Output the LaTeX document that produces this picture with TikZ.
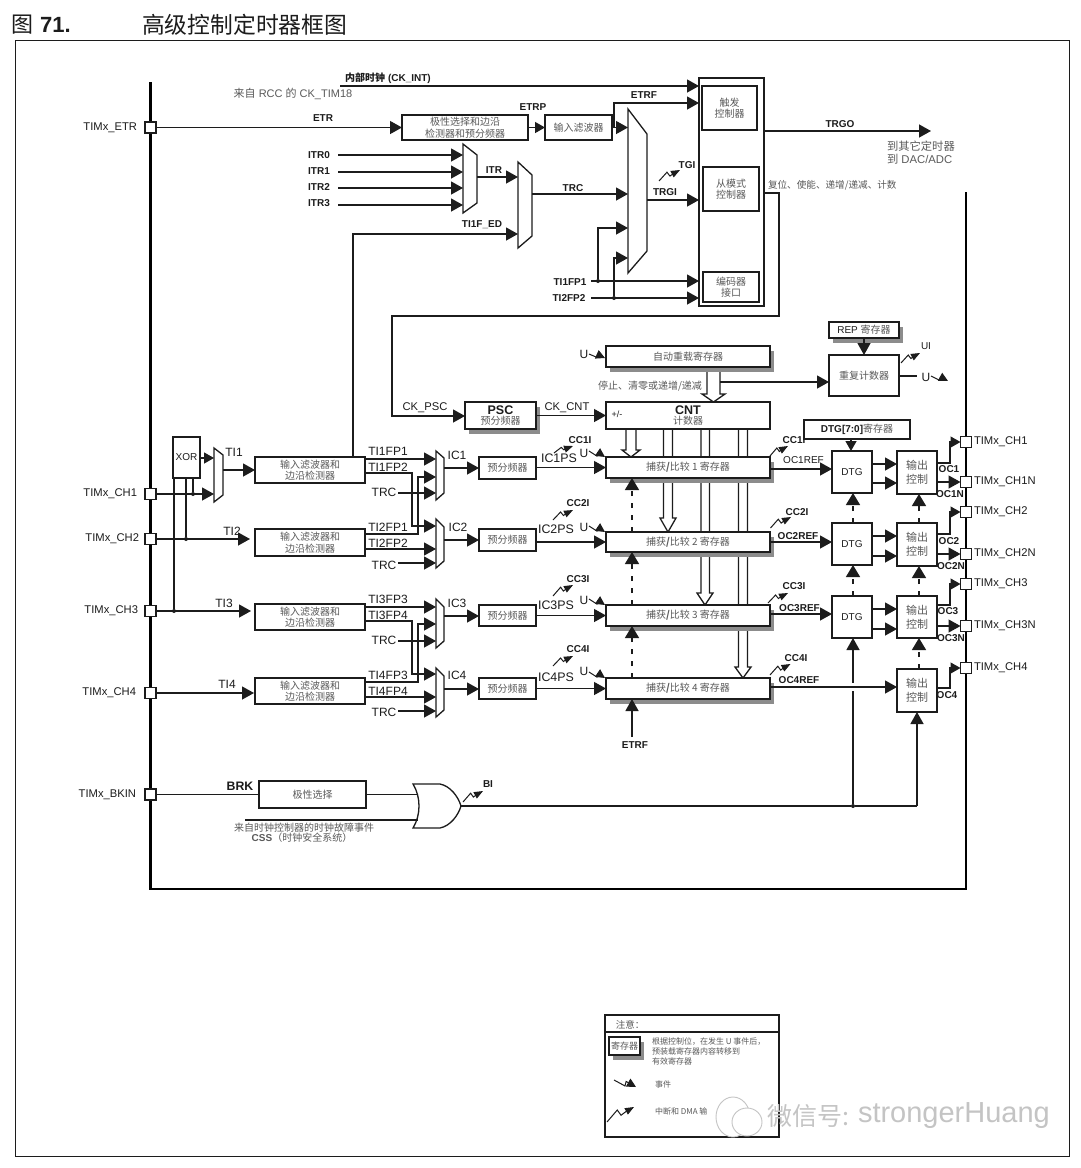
\documentclass[tikz,border=0pt]{standalone}
\usepackage{fontspec}
\setmainfont{Liberation Sans}
\newfontfamily\cjk{Noto Sans CJK SC}
\usetikzlibrary{arrows.meta,shadows}
\pgfdeclarelayer{background}\pgfsetlayers{background,main}
\definecolor{ink}{HTML}{1C1C1C}
\definecolor{zhg}{HTML}{5A5A5A}
\definecolor{shd}{HTML}{8C8C8C}
\definecolor{wmk}{HTML}{C4C4C4}
\newcount\lblcnt
\newcommand{\lbl}[3][]{\global\advance\lblcnt by 1 \node[lab,#1] (lab\the\lblcnt) at (#2) {#3};}
\newcommand{\bxn}[7][]{\node[boxs,#1,minimum width={(#5-#3)*1pt},minimum height={(#6-#4)*1pt}] (#2) at ({(#3+#5)/2},{(#4+#6)/2}) {#7};}
\newcommand{\zig}[4]{\draw[lin,line width=1pt,-{Triangle[length=9pt,width=7pt]}] (#1,#2) -- ({#1+.38*(#3-#1)},{#2+.8*(#4-#2)}) -- ({#1+.52*(#3-#1)},{#2+.45*(#4-#2)}) -- ({#1+.72*(#3-#1)},{#2+.72*(#4-#2)}) -- (#3,#4);}
\newcommand{\evt}[4]{\draw[lin,line width=1pt,-{Triangle[length=9pt,width=9pt]}] (#1,#2) -- ({#1+.5*(#3-#1)},{#2+.85*(#4-#2)}) -- ({#1+.55*(#3-#1)},{#2+.2*(#4-#2)}) -- (#3,#4);}
\newcommand{\mux}[7]{\draw[lin,fill=white] (#2,#3) -- (#4,#5) -- (#4,#6) -- (#2,#7) -- cycle; \coordinate (#1) at (#4,{(#5+#6)/2});}
\tikzset{
 lin/.style={draw=ink,line width=1.3pt,line join=miter},
 arr/.style={lin,-{Triangle[length=12pt,width=13pt]}},
 arrs/.style={lin,-{Triangle[length=10pt,width=11pt]}},
 darr/.style={lin,dash pattern=on 5pt off 7pt,-{Triangle[length=12pt,width=14pt]}},
 busl/.style={draw=black,line width=2.3pt,line cap=butt,line join=miter},
 boxs/.style={draw=ink,line width=1.3pt,fill=white,inner sep=0pt,outer sep=0pt,align=center,text=zhg,font=\zhten},
 reg/.style={copy shadow={draw=none,fill=shd,shadow xshift=3.7pt,shadow yshift=-5pt}},
 pinb/.style={draw=ink,line width=1.3pt,fill=white,minimum size=11pt,inner sep=0pt,outer sep=0pt},
 dot/.style={circle,fill=ink,minimum size=4pt,inner sep=0pt,outer sep=0pt},
 lab/.style={inner sep=0pt,outer sep=0pt,text=ink,align=center},
 bten/.style={font=\fontsize{10}{12}\selectfont\bfseries},
 rtwelve/.style={font=\fontsize{12}{14}\selectfont},
 releven/.style={font=\fontsize{11.2}{13}\selectfont},
 rten/.style={font=\fontsize{10}{12}\selectfont},
 zh/.style={font=\zhten,text=zhg},
 hollow/.style={draw=ink,line width=1.3pt,fill=white,line join=miter},
}
\newcommand{\zhten}{\fontsize{10}{11.5}\selectfont\cjk}
\begin{document}
\begin{tikzpicture}[x=1pt,y=-1pt]
\useasboundingbox (0,0) rectangle (1080,1168);
\begin{pgfonlayer}{background}
\fill[white] (0,0) rectangle (1080,1168);
\end{pgfonlayer}
% title and frame
\draw[draw=ink,line width=1pt] (15,40) rectangle (1069,1156);
\lbl[anchor=west,font=\fontsize{22}{26}\selectfont]{12,25}{{\cjk 图} \textbf{71.}}
\lbl[anchor=west,font=\fontsize{22.8}{26}\selectfont\cjk]{142,25}{高级控制定时器框图}
% bus
\draw[busl] (150.5,82) -- (150.5,889) -- (966,889) -- (966,192);
% left pins
\node[pinb] (pETR) at (150.5,127.5) {};
\node[pinb] (pCH1) at (150.5,494) {};
\node[pinb] (pCH2) at (150.5,539) {};
\node[pinb] (pCH3) at (150.5,611) {};
\node[pinb] (pCH4) at (150.5,693) {};
\node[pinb] (pBK) at (150.5,794.5) {};
\lbl[anchor=east,releven]{137,127.5}{TIMx\_ETR}
\lbl[anchor=east,releven]{137,494}{TIMx\_CH1}
\lbl[anchor=east,releven]{139,539}{TIMx\_CH2}
\lbl[anchor=east,releven]{138,611}{TIMx\_CH3}
\lbl[anchor=east,releven]{136,693}{TIMx\_CH4}
\lbl[anchor=east,releven]{136,794.5}{TIMx\_BKIN}
% top section
\bxn{tb}{699}{78}{764}{306}{}
\bxn{trg}{702}{86}{757}{130}{触发\\控制器}
\bxn{slv}{703}{167}{759}{211}{从模式\\控制器}
\bxn{enc}{703}{272}{759}{302}{编码器\\接口}
\bxn{etrb}{402}{115}{528}{140}{极性选择和边沿\\检测器和预分频器}
\bxn{etrf}{545}{115}{612}{140}{输入滤波器}
\coordinate (ckint) at (340,86);
\draw[arr] (ckint) -- (tb.west |- ckint);
\lbl[font=\fontsize{10}{12}\selectfont\bfseries]{388,78.5}{{\cjk 内部时钟} (CK\_INT)}
\lbl[font=\fontsize{11}{13}\selectfont,text=zhg]{293,93.5}{{\cjk 来自} RCC {\cjk 的} CK\_TIM18}
\draw[arr] (pETR.east) -- (etrb.west);
\lbl[bten]{323,118.5}{ETR}
\lbl[bten]{533,107}{ETRP}
\draw[arrs] (etrb.east) -- (etrf.west);
\mux{mmo}{628}{109}{647}{134}{251}{273}
\coordinate (ma) at (628,127.5);
\coordinate (mc) at (628,194);
\coordinate (md) at (628,228);
\coordinate (me) at (628,258);
\draw[arr] (etrf.east) -- (ma);
\coordinate (ej) at (614,127.5);
\coordinate (ec) at (614,103);
\draw[arr] (ej) -- (ec) -- (tb.west |- ec);
\lbl[bten]{644,95.5}{ETRF}
% ITR muxes
\mux{m1o}{463}{144}{477}{155}{203}{213}
\mux{m2o}{518}{162}{532}{175}{236}{248}
\coordinate (i0) at (338,155); \coordinate (i0e) at (463,155);
\coordinate (i1) at (338,172); \coordinate (i1e) at (463,172);
\coordinate (i2) at (338,188); \coordinate (i2e) at (463,188);
\coordinate (i3) at (338,205); \coordinate (i3e) at (463,205);
\draw[arr] (i0) -- (i0e);
\draw[arr] (i1) -- (i1e);
\draw[arr] (i2) -- (i2e);
\draw[arr] (i3) -- (i3e);
\lbl[bten]{319,155.5}{ITR0}
\lbl[bten]{319,171.5}{ITR1}
\lbl[bten]{319,187.5}{ITR2}
\lbl[bten]{319,203.5}{ITR3}
\coordinate (m1r) at (477,177); \coordinate (m2a) at (518,177);
\draw[arr] (m1r) -- (m2a);
\lbl[bten]{494,170}{ITR}
\coordinate (m2r) at (532,194);
\draw[arr] (m2r) -- (mc);
\lbl[bten]{573,188}{TRC}
\coordinate (m2b) at (518,234);
\lbl[bten]{482,225}{TI1F\_ED}
% TRGI
\coordinate (mr) at (647,200);
\draw[arr] (mr) -- (tb.west |- mr);
\lbl[bten]{665,192.5}{TRGI}
\lbl[bten]{687,165}{TGI}
\zig{659}{181}{680}{170}
% TIxFP to encoder
\coordinate (s1) at (591,281); \coordinate (s2) at (591,298);
\node[dot] (d1) at (598,281) {};
\node[dot] (d2) at (614,298) {};
\draw[arr] (s1) -- (tb.west |- s1);
\draw[arr] (s2) -- (tb.west |- s2);
\draw[arr] (d1) -- (d1 |- md) -- (md);
\draw[arr] (d2) -- (d2 |- me) -- (me);
\lbl[bten]{570,282}{TI1FP1}
\lbl[bten]{569,298}{TI2FP2}
% TRGO
\coordinate (tgo) at (764,131); \coordinate (tge) at (931,131);
\draw[arr] (tgo) -- (tge);
\lbl[bten]{840,124}{TRGO}
\lbl[anchor=west,font=\fontsize{11.3}{13}\selectfont\cjk,text=zhg]{887,146}{到其它定时器}
\lbl[anchor=west,font=\fontsize{11.3}{13}\selectfont,text=zhg]{887,159}{{\cjk 到} DAC/ADC}
\lbl[anchor=west,font=\fontsize{9.6}{12}\selectfont\cjk,text=zhg]{768,185}{复位、使能、递增/递减、计数}
% PSC / CNT
\bxn[reg,font=\fontsize{12.5}{11}\selectfont\bfseries,text=ink]{psc}{465}{402}{536}{429}{PSC\\[-1pt]{\mdseries\zhten\color{zhg}预分频器}}
\bxn[reg]{arl}{606}{346}{770}{367}{自动重载寄存器}
\bxn[font=\fontsize{12.5}{11}\selectfont\bfseries,text=ink]{cnt}{606}{402}{770}{429}{CNT\\[-1pt]{\mdseries\zhten\color{zhg}计数器}}
\lbl[font=\fontsize{9}{11}\selectfont]{617,414}{+/-}
\coordinate (fb1) at (764,193); \coordinate (fb2) at (779,193); \coordinate (fb3) at (779,316); \coordinate (fb4) at (392,316);
\coordinate (fb5) at (392,416);
\draw[arr] (fb1) -- (fb2) -- (fb3) -- (fb4) -- (fb5) -- (psc.west |- fb5);
\lbl[releven]{425,408}{CK\_PSC}
\lbl[releven]{567,408}{CK\_CNT}
\draw[arr] (psc.east) -- (cnt.west);
\lbl[zh]{650,386}{停止、清零或递增/递减}
\evt{589}{354}{605}{358}
\lbl[rtwelve]{584,354}{U}
% repetition counter
\bxn[reg,text=ink,font=\fontsize{10}{12}\selectfont]{rep}{829}{322}{899}{338}{REP {\zhten\color{zhg} 寄存器}}
\bxn{rc}{829}{355}{899}{396}{重复计数器}
\draw[arr] (rep.south) -- (rc.north);
\coordinate (alj) at (720,382);
\draw[arr] (alj) -- (rc.west |- alj);
\zig{901}{363}{920}{353}
\lbl[rten]{926,346}{UI}
\coordinate (ue) at (917,376);
\draw[lin] (rc.east |- ue) -- (ue);
\lbl[rtwelve]{926,377}{U}
\evt{931}{376}{948}{381}
% capture compare
\bxn[reg]{cc1}{606}{457}{770}{478}{捕获{\bfseries/}比较 1 寄存器}
\bxn[reg]{cc2}{606}{532}{770}{552}{捕获{\bfseries/}比较 2 寄存器}
\bxn[reg]{cc3}{606}{605}{770}{626}{捕获{\bfseries/}比较 3 寄存器}
\bxn[reg]{cc4}{606}{678}{770}{699}{捕获{\bfseries/}比较 4 寄存器}
\begin{pgfonlayer}{background}
\draw[hollow] (707,0 |- arl.south) -- (707,394) -- (702,394) -- (713.5,0 |- cnt.north) -- (725,394) -- (720,394) -- (720,0 |- arl.south);
\draw[hollow] (626,0 |- cnt.south) -- (626,450) -- (622,450) -- (631,0 |- cc1.north) -- (640,450) -- (636,450) -- (636,0 |- cnt.south);
\draw[hollow] (663.5,0 |- cnt.south) -- (663.5,518) -- (660,518) -- (668,0 |- cc2.north) -- (676,518) -- (672.5,518) -- (672.5,0 |- cnt.south);
\draw[hollow] (701,0 |- cnt.south) -- (701,593) -- (697,593) -- (705,0 |- cc3.north) -- (713,593) -- (709.5,593) -- (709.5,0 |- cnt.south);
\draw[hollow] (738.5,0 |- cnt.south) -- (738.5,667) -- (735,667) -- (743,0 |- cc4.north) -- (751,667) -- (747.5,667) -- (747.5,0 |- cnt.south);
\end{pgfonlayer}
\coordinate (dx) at (632,0);
\draw[darr] (dx |- cc2.north) -- (dx |- cc1.south);
\draw[darr] (dx |- cc3.north) -- (dx |- cc2.south);
\draw[darr] (dx |- cc4.north) -- (dx |- cc3.south);
\coordinate (etc) at (632,737);
\draw[arr] (etc) -- (etc |- cc4.south);
\lbl[bten]{635,745}{ETRF}
% input side
\bxn[font=\fontsize{10}{12}\selectfont,text=ink]{xor}{173}{437}{200}{478}{XOR}
\mux{mti}{214}{448}{223}{455}{495}{502}
\coordinate (mt1) at (214,458); \coordinate (mt2) at (214,494);
\draw[arrs] (xor.east |- mt1) -- (mt1);
\draw[arr] (pCH1.east) -- (mt2);
\node[dot] (dx1) at (174,611) {};
\node[dot] (dx2) at (186,539) {};
\node[dot] (dx3) at (193,494) {};
\draw[lin] (dx1 |- xor.south) -- (dx1);
\draw[lin] (dx2 |- xor.south) -- (dx2);
\draw[lin] (dx3 |- xor.south) -- (dx3);
\bxn{f1}{255}{457}{365}{483}{输入滤波器和\\边沿检测器}
\bxn{f2}{255}{529}{365}{556}{输入滤波器和\\边沿检测器}
\bxn{f3}{255}{604}{365}{630}{输入滤波器和\\边沿检测器}
\bxn{f4}{255}{678}{365}{704}{输入滤波器和\\边沿检测器}
\coordinate (tir) at (223,470);
\draw[arr] (tir) -- (f1.west |- tir);
\coordinate (ti2) at (250,539);
\draw[arr] (pCH2.east) -- (ti2);
\coordinate (ti3) at (251,611);
\draw[arr] (pCH3.east) -- (ti3);
\coordinate (ti4) at (254,693);
\draw[arr] (pCH4.east) -- (ti4);
\lbl[rtwelve]{234,452.5}{TI1}
\lbl[rtwelve]{232,531}{TI2}
\lbl[rtwelve]{224,603}{TI3}
\lbl[rtwelve]{227,684}{TI4}
% TI1F_ED feed
\coordinate (ted) at (353,457);
\draw[arr] (ted) -- (ted |- m2b) -- (m2b);
% IC muxes
\mux{i1o}{436}{451}{444}{458}{493}{500}
\mux{i2o}{436}{519}{444}{527}{561}{568}
\mux{i3o}{436}{599}{444}{607}{641}{648}
\mux{i4o}{436}{668}{444}{676}{710}{717}
\coordinate (a1) at (436,459); \coordinate (a2) at (436,477); \coordinate (a3) at (436,493);
\coordinate (b1) at (436,526); \coordinate (b2) at (436,549); \coordinate (b3) at (436,563);
\coordinate (c1) at (436,607); \coordinate (c2) at (436,624); \coordinate (c3) at (436,641);
\coordinate (e1) at (436,674); \coordinate (e2) at (436,697); \coordinate (e3) at (436,711);
\draw[arr] (f1.east |- a1) -- (a1);
\coordinate (v1a) at (412,473); \coordinate (v1b) at (418,534);
\draw[arr] (f1.east |- v1a) -- (v1a) -- (v1a |- b1) -- (b1);
\draw[arr] (f2.east |- v1b) -- (v1b) -- (v1b |- a2) -- (a2);
\coordinate (trc1) at (398,493); \draw[arr] (trc1) -- (a3);
\draw[arr] (f2.east |- b2) -- (b2);
\coordinate (trc2) at (398,563); \draw[arr] (trc2) -- (b3);
\draw[arr] (f3.east |- c1) -- (c1);
\coordinate (v2a) at (412,621); \coordinate (v2b) at (418,682);
\draw[arr] (f3.east |- v2a) -- (v2a) -- (v2a |- e1) -- (e1);
\draw[arr] (f4.east |- v2b) -- (v2b) -- (v2b |- c2) -- (c2);
\coordinate (trc3) at (398,641); \draw[arr] (trc3) -- (c3);
\draw[arr] (f4.east |- e2) -- (e2);
\coordinate (trc4) at (398,711); \draw[arr] (trc4) -- (e3);
\lbl[rtwelve]{388,451.5}{TI1FP1}
\lbl[rtwelve]{388,467.5}{TI1FP2}
\lbl[rtwelve]{384,492.5}{TRC}
\lbl[rtwelve]{388,527}{TI2FP1}
\lbl[rtwelve]{388,543}{TI2FP2}
\lbl[rtwelve]{384,565}{TRC}
\lbl[rtwelve]{388,599.5}{TI3FP3}
\lbl[rtwelve]{388,615.5}{TI3FP4}
\lbl[rtwelve]{384,640.5}{TRC}
\lbl[rtwelve]{388,675}{TI4FP3}
\lbl[rtwelve]{388,691}{TI4FP4}
\lbl[rtwelve]{384,712.5}{TRC}
\bxn{p1}{479}{457}{536}{479}{预分频器}
\bxn{p2}{479}{529}{536}{551}{预分频器}
\bxn{p3}{479}{605}{536}{626}{预分频器}
\bxn{p4}{479}{678}{536}{699}{预分频器}
\coordinate (o1) at (444,468); \draw[arr] (o1) -- (p1.west |- o1);
\coordinate (o2) at (444,540); \draw[arr] (o2) -- (p2.west |- o2);
\coordinate (o3) at (444,616); \draw[arr] (o3) -- (p3.west |- o3);
\coordinate (o4) at (444,689); \draw[arr] (o4) -- (p4.west |- o4);
\lbl[rtwelve]{457,455}{IC1}
\lbl[rtwelve]{458,527}{IC2}
\lbl[rtwelve]{457,603}{IC3}
\lbl[rtwelve]{457,675}{IC4}
\coordinate (q1) at (536,467.5); \draw[arr] (q1) -- (cc1.west);
\coordinate (q2) at (536,542); \draw[arr] (q2) -- (cc2.west);
\coordinate (q3) at (536,615.5); \draw[arr] (q3) -- (cc3.west);
\coordinate (q4) at (536,688.5); \draw[arr] (q4) -- (cc4.west);
\zig{554}{453}{573}{446}
\zig{553}{520}{573}{510}
\zig{553}{596}{573}{585}
\zig{553}{666}{573}{656}
\lbl[font=\fontsize{12.4}{14}\selectfont]{559,458}{IC1PS}
\lbl[font=\fontsize{12.4}{14}\selectfont]{556,529}{IC2PS}
\lbl[font=\fontsize{12.4}{14}\selectfont]{556,605.5}{IC3PS}
\lbl[font=\fontsize{12.4}{14}\selectfont]{556,677}{IC4PS}
\lbl[bten]{580,440}{CC1I}
\lbl[bten]{578,503}{CC2I}
\lbl[bten]{578,579}{CC3I}
\lbl[bten]{578,649}{CC4I}
\lbl[rtwelve]{584,453}{U}
\lbl[rtwelve]{584,527}{U}
\lbl[rtwelve]{584,600}{U}
\lbl[rtwelve]{584,671}{U}
\evt{589}{451}{605}{457}
\evt{589}{526}{605}{532}
\evt{589}{599}{605}{605}
\evt{589}{672}{605}{678}
% output side
\bxn[font=\fontsize{10}{12}\selectfont\bfseries,text=ink]{dtr}{804}{420}{910}{439}{DTG[7:0]{\mdseries\zhten\color{zhg}寄存器}}
\bxn[font=\fontsize{10}{12}\selectfont,text=ink]{dt1}{832}{451}{872}{493}{DTG}
\bxn[font=\fontsize{10}{12}\selectfont,text=ink]{dt2}{832}{523}{872}{565}{DTG}
\bxn[font=\fontsize{10}{12}\selectfont,text=ink]{dt3}{832}{596}{872}{638}{DTG}
\bxn[font=\fontsize{11}{14}\selectfont\cjk]{oc1}{897}{451}{937}{494}{输出\\控制}
\bxn[font=\fontsize{11}{14}\selectfont\cjk]{oc2}{897}{523}{937}{566}{输出\\控制}
\bxn[font=\fontsize{11}{14}\selectfont\cjk]{oc3}{897}{596}{937}{638}{输出\\控制}
\bxn[font=\fontsize{11}{14}\selectfont\cjk]{oc4}{897}{669}{937}{712}{输出\\控制}
\coordinate (dtd) at (851,439);
\draw[arrs] (dtd) -- (dtd |- dt1.north);
\coordinate (r1) at (770,469); \draw[arr] (r1) -- (dt1.west |- r1);
\coordinate (r2) at (770,542); \draw[arr] (r2) -- (dt2.west |- r2);
\coordinate (r3) at (770,614); \draw[arr] (r3) -- (dt3.west |- r3);
\lbl[rten]{803.5,460}{OC1REF}
\lbl[bten]{798,536}{OC2REF}
\lbl[bten]{799.5,608}{OC3REF}
\lbl[bten]{799,680.5}{OC4REF}
\lbl[bten]{794,440}{CC1I}
\lbl[bten]{797,512}{CC2I}
\lbl[bten]{794,586}{CC3I}
\lbl[bten]{796,658}{CC4I}
\zig{770}{456}{788}{446}
\zig{770.5}{528}{791}{517}
\zig{768}{603}{788}{593}
\zig{770}{675}{790.5}{664}
\coordinate (ga1) at (872,464); \coordinate (gb1) at (872,483);
\coordinate (ga2) at (872,536); \coordinate (gb2) at (872,556);
\coordinate (ga3) at (872,609); \coordinate (gb3) at (872,629);
\draw[arr] (ga1) -- (oc1.west |- ga1);
\draw[arr] (gb1) -- (oc1.west |- gb1);
\draw[arr] (ga2) -- (oc2.west |- ga2);
\draw[arr] (gb2) -- (oc2.west |- gb2);
\draw[arr] (ga3) -- (oc3.west |- ga3);
\draw[arr] (gb3) -- (oc3.west |- gb3);
\coordinate (ddx) at (853,0); \coordinate (odx) at (919,0);
\draw[darr] (ddx |- dt2.north) -- (ddx |- dt1.south);
\draw[darr] (ddx |- dt3.north) -- (ddx |- dt2.south);
\draw[darr] (odx |- oc2.north) -- (odx |- oc1.south);
\draw[darr] (odx |- oc3.north) -- (odx |- oc2.south);
\draw[darr] (odx |- oc4.north) -- (odx |- oc3.south);
% right pins
\node[pinb] (pO1) at (966,442) {};
\node[pinb] (pN1) at (966,482) {};
\node[pinb] (pO2) at (966,512) {};
\node[pinb] (pN2) at (966,554) {};
\node[pinb] (pO3) at (966,584) {};
\node[pinb] (pN3) at (966,626) {};
\node[pinb] (pO4) at (966,668) {};
\lbl[anchor=west,releven]{974,442}{TIMx\_CH1}
\lbl[anchor=west,releven]{974,482}{TIMx\_CH1N}
\lbl[anchor=west,releven]{974,512}{TIMx\_CH2}
\lbl[anchor=west,releven]{974,554}{TIMx\_CH2N}
\lbl[anchor=west,releven]{974,584}{TIMx\_CH3}
\lbl[anchor=west,releven]{974,626}{TIMx\_CH3N}
\lbl[anchor=west,releven]{974,668}{TIMx\_CH4}
\coordinate (h1) at (950,463); \coordinate (h2) at (950,534); \coordinate (h3) at (950,605); \coordinate (h4) at (950,688);
\draw[arrs] (oc1.east |- h1) -- (h1) -- (h1 |- pO1) -- (pO1.west);
\draw[arrs] (oc2.east |- h2) -- (h2) -- (h2 |- pO2) -- (pO2.west);
\draw[arrs] (oc3.east |- h3) -- (h3) -- (h3 |- pO3) -- (pO3.west);
\draw[arrs] (oc4.east |- h4) -- (h4) -- (h4 |- pO4) -- (pO4.west);
\draw[arr] (oc1.east |- pN1) -- (pN1.west);
\draw[arr] (oc2.east |- pN2) -- (pN2.west);
\draw[arr] (oc3.east |- pN3) -- (pN3.west);
\lbl[bten]{949,469}{OC1}
\lbl[bten]{950,494}{OC1N}
\lbl[bten]{949,541}{OC2}
\lbl[bten]{951,566}{OC2N}
\lbl[bten]{948,611}{OC3}
\lbl[bten]{951,638}{OC3N}
\lbl[bten]{947,695}{OC4}
% break
\bxn{pol}{259}{781}{366}{808}{极性选择}
\lbl[font=\fontsize{12.3}{14}\selectfont\bfseries]{240,786}{BRK}
\draw[lin] (pBK.east) -- (pol.west);
\draw[lin,fill=white] (413,784) -- (440,784) .. controls (450,786) and (458,796) .. (461,806) .. controls (458,816) and (450,826) .. (440,828) -- (413,828) .. controls (421,815) and (421,797) .. (413,784) -- cycle;
\coordinate (or1) at (418,794.5); \coordinate (or2) at (418,820); \coordinate (oro) at (461,806); \coordinate (css) at (245,820);
\draw[lin] (pol.east) -- (or1);
\draw[lin] (css) -- (or2);
\zig{463}{802}{483}{791}
\lbl[bten]{488,784}{BI}
\lbl[zh]{304,827.5}{来自时钟控制器的时钟故障事件}
\lbl[font=\fontsize{10}{12}\selectfont,text=zhg]{302,838}{\textbf{CSS}{\cjk （时钟安全系统）}}
\node[dot] (jb) at (853,806) {};
\coordinate (kb) at (917,806);
\draw[lin] (oro) -- (jb) -- (kb);
\draw[arr] (kb) -- (kb |- oc4.south);
\draw[arr] (jb) -- (jb |- dt3.south);
\draw[white,line width=3pt] (853,683) -- (853,691);
\coordinate (r4) at (770,687); \draw[arr] (r4) -- (oc4.west |- r4);
% legend
\draw[draw=ink,line width=1.3pt] (605,1015) rectangle (779,1137);
\draw[draw=ink,line width=1.3pt] (605,1032) -- (779,1032);
\lbl[font=\fontsize{9.5}{11}\selectfont\cjk,text=zhg]{630,1025}{注意：}
\bxn[reg,line width=1.5pt,font=\fontsize{9}{11}\selectfont\cjk]{lreg}{609}{1037}{640}{1055}{寄存器}
\lbl[anchor=north west,font=\fontsize{8}{9.7}\selectfont\cjk,text=zhg,align=left]{652,1038}{根据控制位，在发生 U 事件后，\\预装载寄存器内容转移到\\有效寄存器}
\evt{614}{1080}{636}{1087}
\lbl[font=\fontsize{8}{10}\selectfont\cjk,text=zhg]{663,1084}{事件}
\zig{607}{1122}{634}{1107}
\lbl[anchor=west,font=\fontsize{8}{10}\selectfont\cjk,text=zhg]{655,1111}{中断和 DMA 输}
% watermark
\draw[wmk,line width=.9pt,fill=white] (733,1117) ellipse [x radius=17,y radius=20];
\draw[wmk,line width=.9pt,fill=white] (747,1122) ellipse [x radius=15,y radius=14];
\lbl[anchor=west,font=\fontsize{25}{28}\selectfont\cjk,text=wmk]{767,1116}{微信号:}
\lbl[anchor=west,font=\fontsize{29}{32}\selectfont,text=wmk]{858,1116}{strongerHuang}
\end{tikzpicture}
\end{document}
